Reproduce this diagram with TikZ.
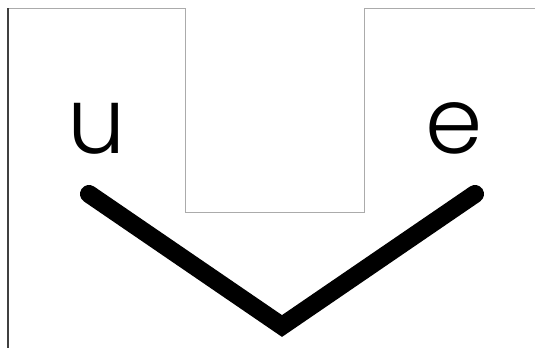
\documentclass[tikz,border=0pt]{standalone}
\usepackage{fontspec}
\setmainfont{Poppins Light}
\begin{document}
\begin{tikzpicture}[x=1pt,y=-1pt,
  frame/.style={draw=black!33,line width=1pt},
  leftedge/.style={draw=black!75,line width=1.2pt},
  vstroke/.style={line width=18pt,line cap=round,line join=miter},
  letter/.style={inner sep=0pt,font=\fontsize{92}{92}\selectfont}]
\useasboundingbox (0,0) rectangle (535,348);
\coordinate (tl) at (8,8);
\coordinate (bl) at (8,348);
\coordinate (n1) at (185,8);
\coordinate (n2) at (185,212);
\coordinate (n3) at (364,212);
\coordinate (n4) at (364,8);
\coordinate (tr) at (535,8);
\draw[frame] (tl) -- (n1) -- (n2) -- (n3) -- (n4) -- (tr);
\draw[leftedge] (tl) -- (bl);
\node[letter,anchor=base] (u) at (97,153) {u};
\node[letter,anchor=base] (e) at (454,153) {e};
\coordinate (va) at (89,194);
\coordinate (vb) at (282,326);
\coordinate (vc) at (475,194);
\draw[vstroke] (va) -- (vb) -- (vc);
\end{tikzpicture}
\end{document}
